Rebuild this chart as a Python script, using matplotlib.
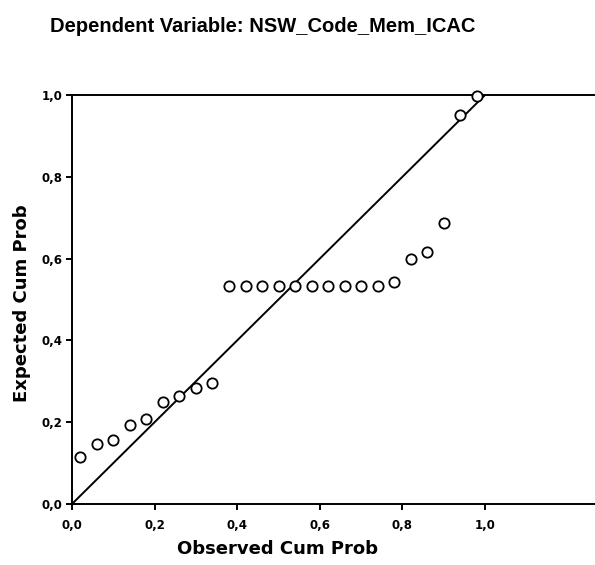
import numpy as np
import matplotlib
matplotlib.use("Agg")
import matplotlib.pyplot as plt
from matplotlib.ticker import FuncFormatter

plt.rcParams['font.family'] = ['Liberation Sans', 'DejaVu Sans']

# P-P plot of regression standardized residuals
observed = [0.02, 0.06, 0.10, 0.14, 0.18, 0.22, 0.26, 0.30, 0.34,
            0.38, 0.42, 0.46, 0.50, 0.54, 0.58, 0.62, 0.66, 0.70, 0.74,
            0.78, 0.82, 0.86, 0.90, 0.94, 0.98]
expected = [0.115, 0.147, 0.156, 0.193, 0.208, 0.249, 0.264, 0.284, 0.296,
            0.533, 0.533, 0.533, 0.533, 0.533, 0.533, 0.533, 0.533, 0.533, 0.533,
            0.543, 0.599, 0.616, 0.687, 0.951, 0.998]
ticks = [0.0, 0.2, 0.4, 0.6, 0.8, 1.0]

fig = plt.figure(figsize=(5.95, 5.65), dpi=100)
ax = fig.add_axes([0.121, 0.108, 0.879, 0.724])

ax.plot([0, 1], [0, 1], color='black', linewidth=1.4)
ax.scatter(observed, expected, s=55, facecolors='white', edgecolors='black',
           linewidths=1.3, zorder=3, clip_on=False)

ax.set_xlim(0, 1.266)
ax.set_ylim(0, 1.0)
ax.set_xticks(ticks)
ax.set_yticks(ticks)
comma = FuncFormatter(lambda v, pos: f"{v:.1f}".replace('.', ','))
ax.xaxis.set_major_formatter(comma)
ax.yaxis.set_major_formatter(comma)
ax.tick_params(direction='out', length=4, width=1.4, labelsize=8.5)
ax.tick_params(axis='x', pad=7)
ax.tick_params(axis='y', pad=3)
for lab in ax.get_xticklabels() + ax.get_yticklabels():
    lab.set_fontweight('bold')
    lab.set_family('DejaVu Sans')

ax.spines['right'].set_visible(False)
for s in ['left', 'bottom', 'top']:
    ax.spines[s].set_linewidth(1.4)

ax.set_xlabel('Observed Cum Prob', fontsize=13, fontweight='bold',
              family='DejaVu Sans')
ax.set_ylabel('Expected Cum Prob', fontsize=13, fontweight='bold',
              family='DejaVu Sans')
ax.xaxis.set_label_coords(0.392, -0.088)
ax.yaxis.set_label_coords(-0.078, 0.49)

fig.text(0.442, 0.953, 'Dependent Variable: NSW_Code_Mem_ICAC', ha='center',
         va='center', fontsize=14.5, fontweight='bold')

fig.savefig('out.png', dpi=100)
